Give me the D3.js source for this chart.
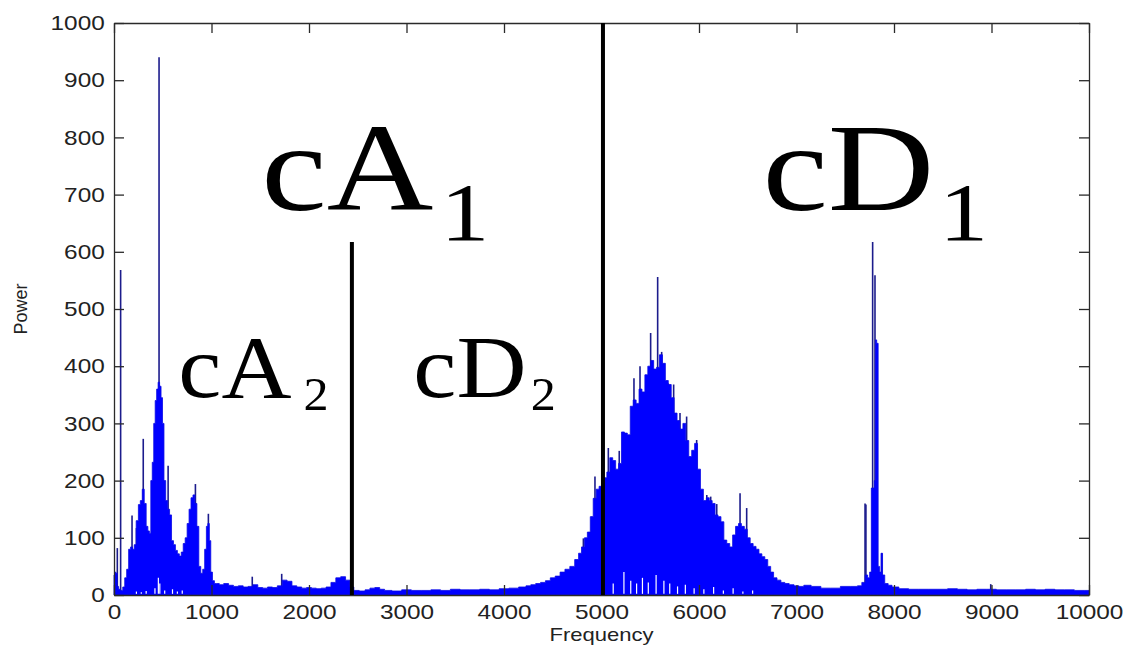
<!DOCTYPE html>
<html>
<head>
<meta charset="utf-8">
<script src="https://cdn.jsdelivr.net/npm/d3@7"></script>
<style>
  body { margin: 0; background: #fff; }
  svg { display: block; }
</style>
</head>
<body>
<svg width="1128" height="648"></svg>
<script>
// spectrum envelope (Hz, power)
var envFreq = [0, 12, 25, 40, 55, 80, 100, 120, 140, 160, 180, 200, 215, 240, 260, 280, 300, 320, 340, 355, 370, 385, 400, 415, 430, 445, 460, 475, 490, 505, 520, 540, 560, 580, 600, 620, 640, 660, 680, 700, 720, 740, 760, 780, 800, 820, 840, 860, 880, 900, 920, 940, 955, 970, 985, 1000, 1020, 1040,
  1060, 1100, 1150, 1200, 1250, 1300, 1350, 1400, 1450, 1500, 1550, 1600, 1650, 1700, 1750, 1800, 1850, 1900, 1950, 2000, 2050, 2100, 2150, 2200, 2250, 2300, 2350, 2400, 2440, 2480, 2550, 2600, 2650, 2700, 2750, 2800, 2900, 3000, 3100, 3200, 3300, 3400, 3500, 3600, 3700, 3800, 3900, 4000, 4100, 4200, 4250, 4300, 4350, 4400, 4450, 4500, 4550, 4600, 4650, 4700, 4750,
  4780, 4810, 4840, 4870, 4900, 4930, 4960, 4990, 5010, 5040, 5070, 5100, 5130, 5160, 5190, 5220, 5250, 5280, 5310, 5340, 5370, 5400, 5430, 5460, 5490, 5520, 5550, 5580, 5610, 5640, 5670, 5700, 5730, 5760, 5790, 5820, 5850, 5880, 5910, 5940, 5970, 6000, 6030, 6060, 6090, 6120, 6150, 6180, 6210, 6240, 6270, 6300, 6330, 6360, 6390, 6420, 6450, 6480, 6510, 6540, 6570, 6600, 6630, 6660, 6690, 6720, 6750, 6780, 6820, 6860, 6900, 6950, 7000, 7050,
  7100, 7200, 7300, 7400, 7500, 7600, 7650, 7690, 7720, 7740, 7760, 7775, 7790, 7805, 7815, 7830, 7845, 7860, 7875, 7890, 7920, 7960, 8000, 8100, 8200, 8300, 8400, 8500, 8600, 8700, 8800, 8900, 9000, 9100, 9200, 9300, 9400, 9500, 9600, 9700, 9800, 9900, 10000];
var envPower = [35, 40, 38, 15, 10, 8, 14, 30, 45, 80, 84, 80, 88, 130, 158, 165, 185, 160, 120, 112, 108, 200, 232, 300, 340, 360, 372, 365, 345, 300, 200, 165, 150, 140, 95, 88, 78, 72, 68, 75, 90, 100, 125, 150, 170, 175, 160, 120, 50, 38, 45, 80, 120, 125, 95, 40, 25, 20,
  20, 18, 20, 17, 15, 16, 14, 15, 18, 13, 12, 14, 13, 16, 26, 24, 16, 14, 12, 13, 12, 11, 12, 14, 22, 30, 32, 26, 14, 8, 7, 9, 12, 13, 10, 8, 7, 9, 8, 8, 9, 8, 10, 9, 9, 10, 9, 11, 12, 14, 16, 18, 20, 22, 25, 30, 33, 40, 45, 50, 62,
  73, 84, 100, 110, 137, 169, 185, 190, 200, 205, 215, 240, 235, 220, 230, 285, 283, 280, 330, 341, 335, 360, 355, 385, 400, 410, 395, 398, 420, 405, 375, 368, 345, 318, 305, 290, 300, 270, 242, 253, 265, 220, 185, 165, 170, 165, 160, 140, 137, 128, 96, 90, 84, 105, 120, 125, 120, 115, 100, 90, 85, 80, 72, 67, 62, 50, 40, 30, 26, 22, 20, 18, 16, 15,
  17, 15, 12, 12, 15, 15, 16, 22, 35, 30, 40, 187, 187, 200, 446, 440, 50, 40, 73, 35, 20, 17, 14, 11, 10, 10, 10, 10, 11, 10, 9, 10, 10, 9, 9, 9, 10, 9, 10, 9, 9, 8, 8];

// narrow spikes sticking out of the envelope
var spikeFreq = [34, 68, 185, 230, 300, 462, 555, 835, 968, 1418, 1720, 4814, 4900, 4933, 5070, 5182, 5333, 5395, 5504, 5576, 5617, 5685, 5740, 5805, 5873, 5976, 6080, 6120, 6182, 6421, 6489, 7703, 7712, 7781, 7805, 7874, 8992];
var spikePower = [82, 568, 139, 117, 273, 940, 226, 194, 142, 32, 37, 99, 137, 207, 257, 252, 379, 400, 458, 556, 425, 370, 368, 318, 312, 271, 175, 172, 159, 178, 152, 160, 158, 617, 559, 73, 19];

// white gaps near the floor of the dense bands (Hz, power reached by the gap)
var gapFreq = [230, 280, 330, 420, 455, 470, 520, 600, 650, 700, 5120, 5230, 5300, 5360, 5420, 5480, 5560, 5640, 5700, 5780, 5860, 5950, 6050, 6150, 6250, 6350, 6450, 6550];
var gapPower = [6, 5, 7, 12, 30, 20, 8, 10, 6, 8, 20, 40, 25, 20, 30, 22, 35, 25, 20, 15, 18, 12, 10, 14, 8, 12, 6, 8];

// band dividers
var dividerFreq = [2440, 5015];
var dividerTop = [617, 1000];

var xTicks = [0, 1000, 2000, 3000, 4000, 5000, 6000, 7000, 8000, 9000, 10000];
var yTicks = [0, 100, 200, 300, 400, 500, 600, 700, 800, 900, 1000];

var svg = d3.select('svg');
var plotLeft = 114, plotRight = 1089, plotTop = 23, plotBottom = 595;
var stretch = 1.16;

var x = d3.scaleLinear().domain([0, 10000]).range([plotLeft, plotRight]);
var y = d3.scaleLinear().domain([0, 1000]).range([plotBottom, plotTop]);

var env = envFreq.map(function(f, i) { return [f, envPower[i]]; });

// spikes go first so the blue fill hides their lower part
svg.append("g").selectAll("line")
    .data(spikeFreq)
    .enter().append("line")
    .attr("x1", function(d) { return x(d); })
    .attr("x2", function(d) { return x(d); })
    .attr("y1", y(0))
    .attr("y2", function(d, i) { return y(spikePower[i]); })
    .attr("stroke", "#1c1c8c")
    .attr("stroke-width", 1.6);

var area = d3.area()
    .x(function(d) { return x(d[0]); })
    .y0(y(0))
    .y1(function(d) { return y(d[1]); })
    .curve(d3.curveStep);

svg.append("path")
    .datum(env)
    .attr("d", area)
    .attr("fill", "#0000ff")
    .attr("stroke", "#0a0ae6")
    .attr("stroke-width", 0.8);

svg.append("g").selectAll("line")
    .data(gapFreq)
    .enter().append("line")
    .attr("x1", function(d) { return x(d); })
    .attr("x2", function(d) { return x(d); })
    .attr("y1", y(2))
    .attr("y2", function(d, i) { return y(gapPower[i]); })
    .attr("stroke", "#fff")
    .attr("stroke-width", 1.2);

// axes, ticks inward on all four sides
var fmt = d3.format("d");
svg.append("g").attr("transform", "translate(" + plotLeft + ",0)")
    .call(d3.axisLeft(y).tickValues(yTicks).tickFormat(fmt).tickSize(-10).tickSizeOuter(0).tickPadding(8));
svg.append("g").attr("transform", "translate(0," + plotBottom + ")")
    .call(d3.axisBottom(x).tickValues(xTicks).tickFormat(fmt).tickSize(-10).tickSizeOuter(0).tickPadding(9));
svg.append("g").attr("transform", "translate(" + plotRight + ",0)")
    .call(d3.axisRight(y).tickValues(yTicks).tickSize(-10).tickSizeOuter(0).tickFormat(""));
svg.append("g").attr("transform", "translate(0," + plotTop + ")")
    .call(d3.axisTop(x).tickValues(xTicks).tickSize(-10).tickSizeOuter(0).tickFormat(""));

svg.selectAll(".domain").attr("stroke", "#2a2a2a").attr("stroke-width", 1.3);
svg.selectAll(".tick line").attr("stroke", "#2a2a2a").attr("stroke-width", 1.3);
svg.selectAll(".tick text")
    .attr("font-family", "Liberation Sans, Arial, sans-serif")
    .attr("font-size", 21)
    .attr("fill", "#222")
    .attr("transform", "scale(" + stretch + ",1)");

// band dividers
svg.append("g").selectAll("line")
    .data(dividerFreq)
    .enter().append("line")
    .attr("x1", function(d) { return x(d); })
    .attr("x2", function(d) { return x(d); })
    .attr("y1", y(0))
    .attr("y2", function(d, i) { return y(dividerTop[i]); })
    .attr("stroke", "#000")
    .attr("stroke-width", 4);

// band labels
function bandLabel(f, p, base, sub, size, subSize, sx, dx, dy) {
    var g = svg.append("g")
        .attr("transform", "translate(" + x(f) + "," + y(p) + ") scale(" + sx + ",1)");
    var t = g.append("text")
        .attr("font-family", "Liberation Serif, Times New Roman, serif")
        .attr("fill", "#000");
    t.append("tspan").attr("font-size", size).text(base);
    t.append("tspan").attr("font-size", subSize).attr("dx", dx).attr("dy", dy).text(sub);
}

bandLabel(1510, 673, "cA", "1", 124, 82, 1.19, 6, 30);
bandLabel(6650, 673, "cD", "1", 124, 82, 1.19, 4, 30);
bandLabel(660, 346, "cA", "2", 89, 46, 1.09, 11, 13);
bandLabel(3070, 346, "cD", "2", 89, 46, 1.09, 4, 13);

// axis titles
svg.append("text")
    .attr("x", (plotLeft + plotRight) / 2 / stretch)
    .attr("y", 641)
    .attr("transform", "scale(" + stretch + ",1)")
    .attr("text-anchor", "middle")
    .attr("font-family", "Liberation Sans, Arial, sans-serif")
    .attr("font-size", 19)
    .attr("fill", "#222")
    .text("Frequency");

svg.append("text")
    .attr("transform", "translate(27," + (plotTop + plotBottom) / 2 + ") rotate(-90)")
    .attr("text-anchor", "middle")
    .attr("font-family", "Liberation Sans, Arial, sans-serif")
    .attr("font-size", 18)
    .attr("fill", "#222")
    .text("Power");
</script>
</body>
</html>
